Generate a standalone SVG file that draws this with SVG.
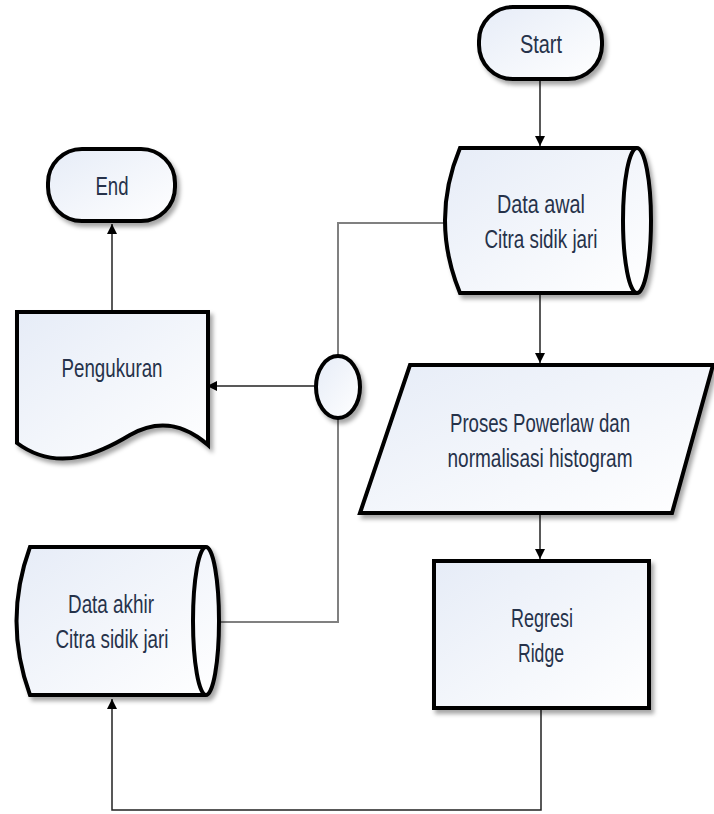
<svg xmlns="http://www.w3.org/2000/svg" width="714" height="814" viewBox="0 0 714 814">
<defs>
<linearGradient id="g" x1="0" y1="0" x2="1" y2="1">
<stop offset="0" stop-color="#e6ecf7"/>
<stop offset="1" stop-color="#ffffff"/>
</linearGradient>
<filter id="sh" x="-10%" y="-10%" width="130%" height="130%">
<feDropShadow dx="3" dy="4" stdDeviation="2" flood-color="#000" flood-opacity="0.35"/>
</filter>
<marker id="arr" viewBox="0 0 10 10" refX="10" refY="5" markerWidth="10" markerHeight="10" markerUnits="userSpaceOnUse" orient="auto">
<path d="M0,0 L10,5 L0,10 Z" fill="#000"/>
</marker>
</defs>
<style>
.shape{fill:url(#g);stroke:#000;stroke-width:4;stroke-linejoin:miter;filter:url(#sh)}
.inner{fill:none;stroke:#000;stroke-width:4}
.lbl{font-family:"Liberation Sans",Arial,sans-serif;font-size:25px;fill:#26324a;text-anchor:middle}
.c{fill:none;stroke:#222;stroke-width:1.5}
.cg{fill:none;stroke:#808080;stroke-width:2}
</style>
<g id="connectors">
<line class="c" x1="540" y1="80" x2="540" y2="146" marker-end="url(#arr)"/>
<line class="c" x1="540" y1="295" x2="540" y2="363" marker-end="url(#arr)"/>
<line class="c" x1="540" y1="515" x2="540" y2="559" marker-end="url(#arr)"/>
<polyline class="c" points="541,710 541,810 112,810 112,699" marker-end="url(#arr)"/>
<polyline class="cg" points="445,223 338,223 338,355"/>
<polyline class="cg" points="338,418 338,622 206,622"/>
<line class="c" x1="316" y1="386" x2="207" y2="386" marker-end="url(#arr)"/>
<line class="c" x1="112" y1="310" x2="112" y2="224" marker-end="url(#arr)"/>
</g>
<g id="start">
<rect class="shape" x="479" y="7" width="123" height="72" rx="34" ry="34"/>
<text class="lbl" x="541" y="53" textLength="42" lengthAdjust="spacingAndGlyphs">Start</text>
</g>
<g id="end">
<rect class="shape" x="48" y="149" width="127" height="72" rx="34" ry="34"/>
<text class="lbl" x="112" y="195" textLength="33" lengthAdjust="spacingAndGlyphs">End</text>
</g>
<g id="data-awal">
<path class="shape" d="M460,148 H637 A14,72.5 0 0 1 637,293 H460 Q430,220 460,148 Z"/>
<path class="inner" d="M637,148 A14,72.5 0 0 0 637,293"/>
<text class="lbl" x="541" y="213" textLength="88" lengthAdjust="spacingAndGlyphs">Data awal</text>
<text class="lbl" x="541" y="248" textLength="113" lengthAdjust="spacingAndGlyphs">Citra sidik jari</text>
</g>
<g id="pengukuran">
<path class="shape" d="M17,312 H208 V445 C185,425 160,418 130,435 C105,450 60,475 17,443 Z"/>
<text class="lbl" x="112" y="377" textLength="101" lengthAdjust="spacingAndGlyphs">Pengukuran</text>
</g>
<g id="connector-node">
<ellipse class="shape" cx="338" cy="387" rx="22" ry="31"/>
</g>
<g id="proses">
<path class="shape" d="M410,365 H713 L672,513 H360 Z"/>
<text class="lbl" x="540" y="432" textLength="180" lengthAdjust="spacingAndGlyphs">Proses Powerlaw dan</text>
<text class="lbl" x="540" y="467" textLength="185" lengthAdjust="spacingAndGlyphs">normalisasi histogram</text>
</g>
<g id="regresi">
<rect class="shape" x="434" y="561" width="215" height="147"/>
<text class="lbl" x="542" y="627" textLength="62" lengthAdjust="spacingAndGlyphs">Regresi</text>
<text class="lbl" x="541" y="662" textLength="46" lengthAdjust="spacingAndGlyphs">Ridge</text>
</g>
<g id="data-akhir">
<path class="shape" d="M30,547 H206 A13,74 0 0 1 206,695 H30 Q3,621 30,547 Z"/>
<path class="inner" d="M206,547 A13,74 0 0 0 206,695"/>
<text class="lbl" x="111" y="613" textLength="86" lengthAdjust="spacingAndGlyphs">Data akhir</text>
<text class="lbl" x="112" y="648" textLength="113" lengthAdjust="spacingAndGlyphs">Citra sidik jari</text>
</g>
</svg>
